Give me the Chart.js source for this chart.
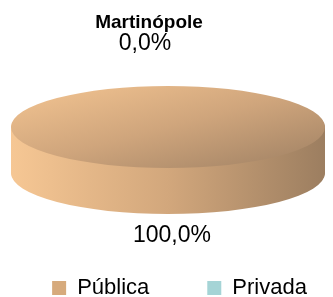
<!DOCTYPE html>
<html>
<head>
<meta charset="utf-8">
<script src="https://cdn.jsdelivr.net/npm/chart.js@4"></script>
<style>
  html, body { margin: 0; padding: 0; background: #fff; }
  #wrap { width: 333px; height: 297px; }
</style>
</head>
<body>
<div id="wrap"><canvas id="chart" width="333" height="297"></canvas></div>
<script>
const title = 'Martinópole';
const categories = ['Pública', 'Privada'];
const values = [100, 0];
const valueLabels = ['100,0%', '0,0%'];
const legendColors = ['#d6aa7c', '#a5d4d6'];

// ellipse used to fake Excel's 3D pie
const pie3d = { cx: 168, cy: 127, rx: 157, ry: 41, depth: 46 };

const pie3dPlugin = {
    id: 'pie3d',
    beforeDatasetsDraw(chart) {
        const ctx = chart.ctx;
        const meta = chart.getDatasetMeta(0);
        const p = pie3d;

        const drawArc = (arc, dy, fill) => {
            const r = arc.outerRadius;
            const saved = arc.options.backgroundColor;
            ctx.save();
            ctx.translate(p.cx, p.cy + dy);
            ctx.scale(p.rx / r, p.ry / r);
            ctx.translate(-arc.x, -arc.y);
            arc.options.backgroundColor = fill(arc.x, arc.y, r);
            arc.draw(ctx);
            arc.options.backgroundColor = saved;
            ctx.restore();
        };

        const sideFill = (x, y, r) => {
            const g = ctx.createLinearGradient(x - r, y, x + r, y);
            g.addColorStop(0, '#f6c794');
            g.addColorStop(0.5, '#d2a77c');
            g.addColorStop(1, '#9c7e60');
            return g;
        };
        const topFill = (x, y, r) => {
            const g = ctx.createLinearGradient(x - r, y - r, x + r, y + r);
            g.addColorStop(0, '#f4c592');
            g.addColorStop(0.5, '#cfa57c');
            g.addColorStop(1, '#9e8063');
            return g;
        };

        meta.data.forEach((arc, i) => {
            if (!values[i]) return;
            for (let d = p.depth; d > 0; d--) drawArc(arc, d, sideFill);
        });
        meta.data.forEach((arc, i) => {
            if (!values[i]) return;
            drawArc(arc, 0, topFill);
        });
        return false;
    },
    afterDraw(chart) {
        const ctx = chart.ctx;
        ctx.save();
        ctx.fillStyle = '#000';
        ctx.textAlign = 'center';
        ctx.textBaseline = 'middle';
        ctx.font = 'bold 19px "Liberation Sans", Arial, sans-serif';
        ctx.fillText(title, 149, 23);
        ctx.font = '23px "Liberation Sans", Arial, sans-serif';
        ctx.fillText(valueLabels[1], 145, 44);
        ctx.fillText(valueLabels[0], 172, 236);
        ctx.restore();
    }
};

new Chart(document.getElementById('chart'), {
    type: 'pie',
    data: {
        labels: categories,
        datasets: [{
            data: values,
            backgroundColor: legendColors,
            borderWidth: 0
        }]
    },
    options: {
        responsive: false,
        animation: false,
        // negative side padding widens the legend row so both items stay on one line
        layout: { padding: { top: 60, bottom: -12, left: -10, right: -36 } },
        plugins: {
            tooltip: { enabled: false },
            legend: {
                position: 'bottom',
                labels: {
                    boxWidth: 14,
                    boxHeight: 14,
                    padding: 58,
                    color: '#000',
                    font: { size: 22, family: '"Liberation Sans", Arial, sans-serif' },
                    generateLabels(chart) {
                        return categories.map((c, i) => ({
                            text: c,
                            fillStyle: legendColors[i],
                            strokeStyle: legendColors[i],
                            lineWidth: 0,
                            hidden: false,
                            index: i
                        }));
                    }
                }
            }
        }
    },
    plugins: [pie3dPlugin]
});
</script>
</body>
</html>
